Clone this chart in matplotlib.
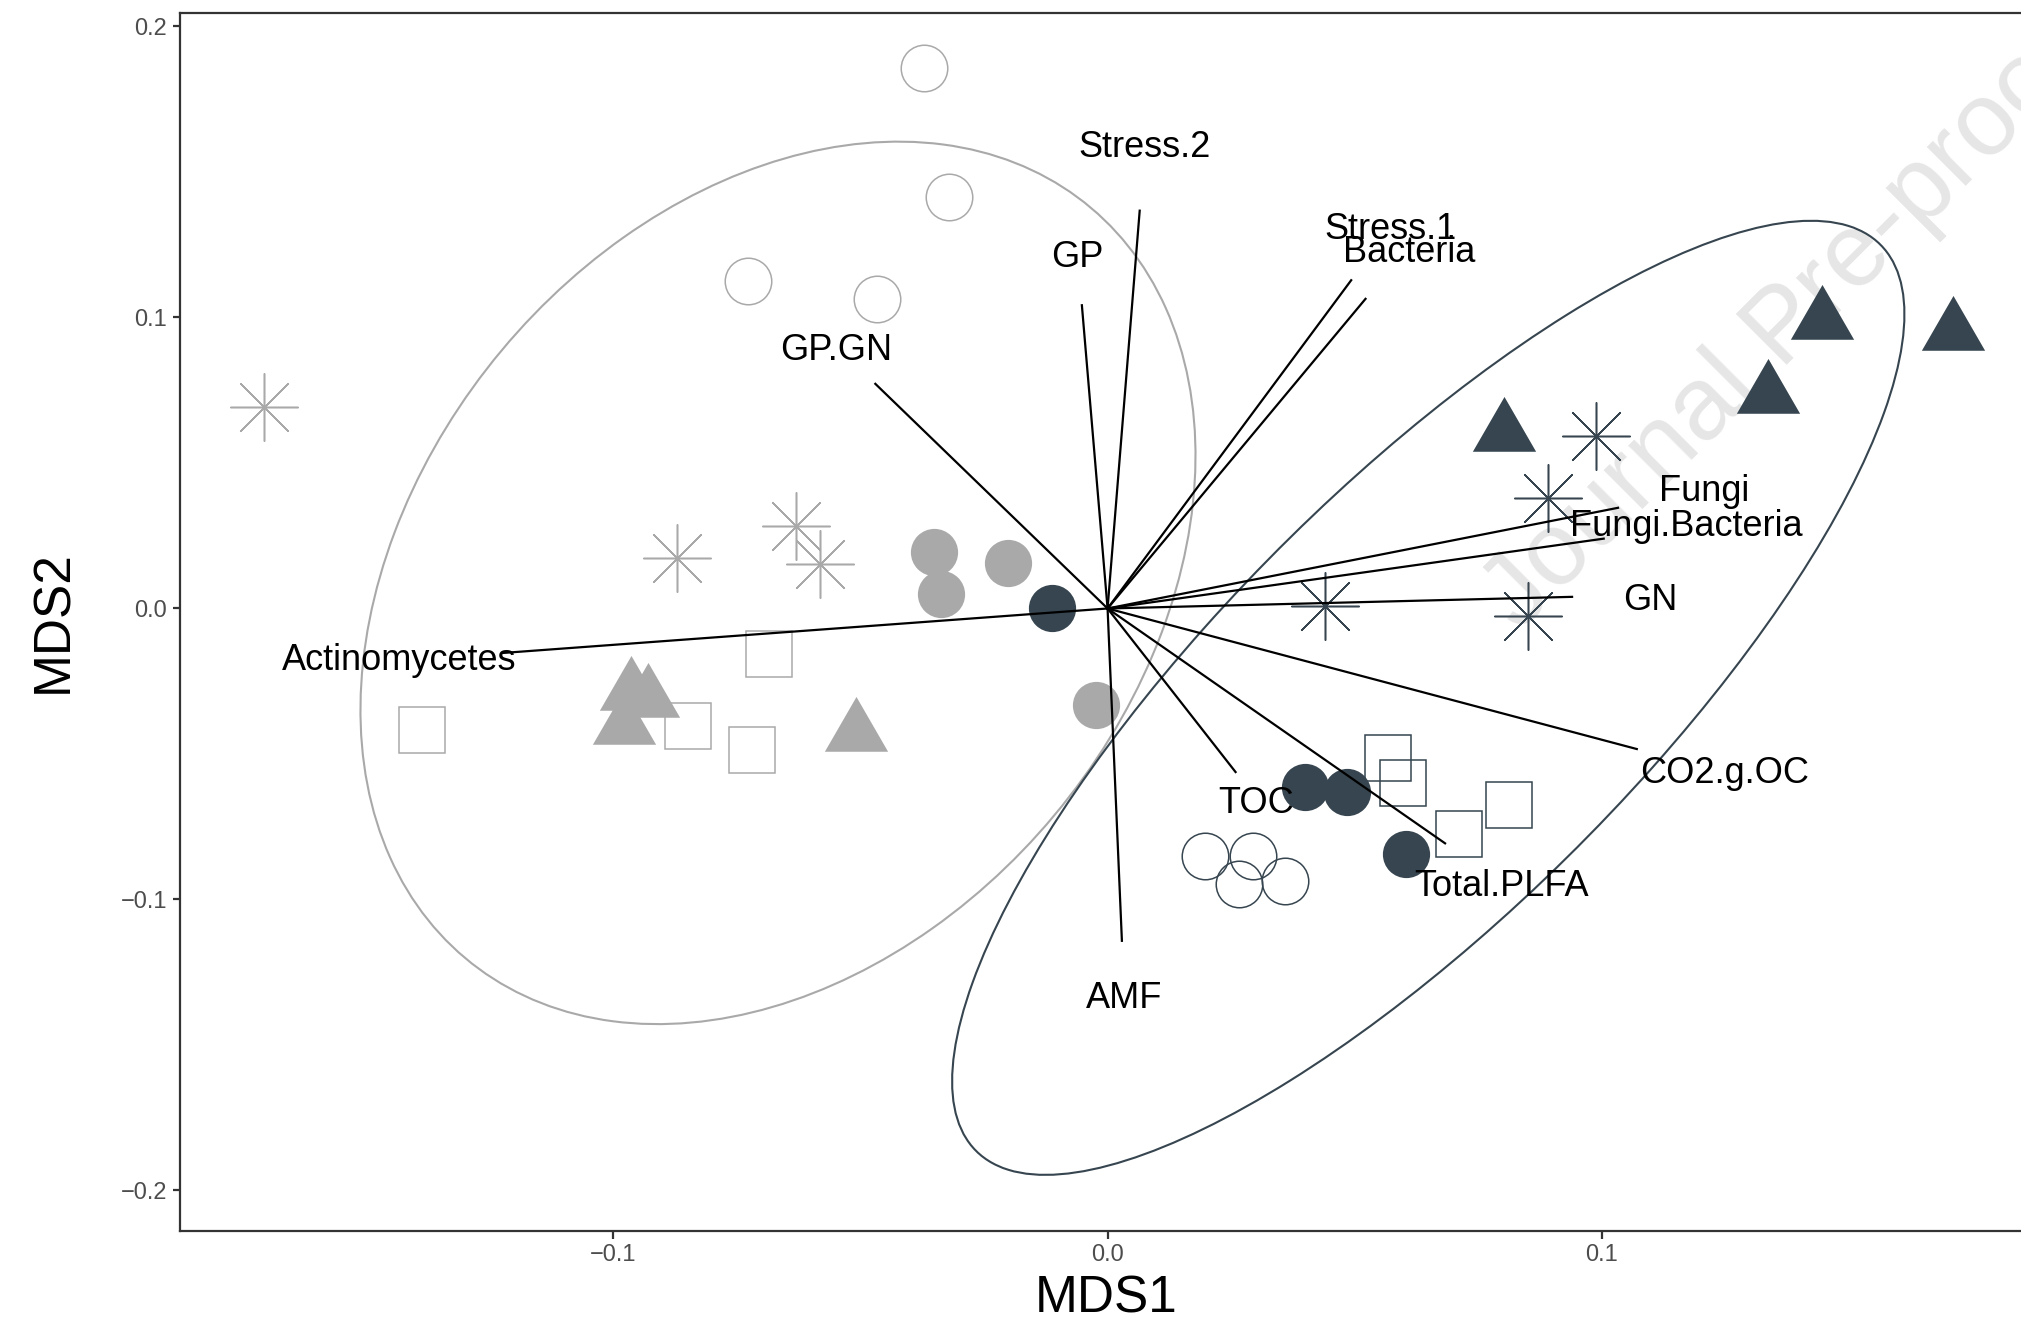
import numpy as np
import matplotlib.pyplot as plt
from matplotlib.patches import Ellipse

plt.rcParams['font.family'] = ['Liberation Sans', 'DejaVu Sans']

# NMDS site scores, two groups x five shapes
grey_open_circle_x = [-0.0371, -0.0320, -0.0727, -0.0466]
grey_open_circle_y = [0.1857, 0.1414, 0.1124, 0.1063]
grey_circle_x = [-0.0352, -0.0202, -0.0337, -0.0023]
grey_circle_y = [0.0195, 0.0156, 0.0051, -0.0333]
grey_square_x = [-0.1388, -0.0685, -0.0719, -0.0850]
grey_square_y = [-0.0416, -0.0158, -0.0487, -0.0405]
grey_triangle_x = [-0.0965, -0.0930, -0.0979, -0.0509]
grey_triangle_y = [-0.0286, -0.0310, -0.0405, -0.0428]
grey_star_x = [-0.1708, -0.0872, -0.0631, -0.0581]
grey_star_y = [0.0693, 0.0175, 0.0284, 0.0154]

dark_open_circle_x = [0.0197, 0.0295, 0.0266, 0.0359]
dark_open_circle_y = [-0.0851, -0.0851, -0.0947, -0.0935]
dark_circle_x = [-0.0113, 0.0399, 0.0484, 0.0603]
dark_circle_y = [0.0002, -0.0613, -0.0632, -0.0844]
dark_square_x = [0.0567, 0.0597, 0.0712, 0.0812]
dark_square_y = [-0.0515, -0.0601, -0.0775, -0.0674]
dark_triangle_x = [0.1445, 0.1711, 0.1336, 0.0802]
dark_triangle_y = [0.0988, 0.0950, 0.0734, 0.0603]
dark_star_x = [0.0989, 0.0892, 0.0850, 0.0439]
dark_star_y = [0.0591, 0.0378, -0.0026, 0.0008]

# 95% ellipses: centre, semi axes, angle (deg)
grey_ell = dict(cx=-0.0667, cy=0.0088, a=0.1543, b=0.0795, ang=77.5)
dark_ell = dict(cx=0.0649, cy=-0.0307, a=0.1831, b=0.0513, ang=62.35)

# envfit vectors
vec_names = ['Stress.2', 'GP', 'GP.GN', 'Stress.1', 'Bacteria', 'Fungi',
             'Fungi.Bacteria', 'GN', 'CO2.g.OC', 'Total.PLFA', 'TOC', 'AMF',
             'Actinomycetes']
vec_x = [0.0065, -0.0052, -0.0470, 0.0493, 0.0522, 0.1033, 0.1004, 0.0940,
         0.1071, 0.0683, 0.0259, 0.0029, -0.1225]
vec_y = [0.1367, 0.1042, 0.0772, 0.1128, 0.1064, 0.0346, 0.0240, 0.0040,
         -0.0483, -0.0807, -0.0562, -0.1142, -0.0153]
lab_x = [0.0075, -0.0062, -0.0549, 0.0572, 0.0610, 0.1208, 0.1172, 0.1098,
         0.1249, 0.0797, 0.0300, 0.0033, -0.1433]
lab_y = [0.1595, 0.1219, 0.0898, 0.1315, 0.1236, 0.0415, 0.0292, 0.0039,
         -0.0556, -0.0942, -0.0659, -0.1330, -0.0167]

grey = '#A9A9A9'
dark = '#36454F'

fig = plt.figure(figsize=(20.21, 13.24), dpi=100)
ax = fig.add_axes([0.0891, 0.0705, 0.9164, 0.9194])

tri = [(0, 1), (-0.866, -0.5), (0.866, -0.5)]

for col, oc, fc, sq, tr, st in [
        (grey, (grey_open_circle_x, grey_open_circle_y), (grey_circle_x, grey_circle_y),
         (grey_square_x, grey_square_y), (grey_triangle_x, grey_triangle_y),
         (grey_star_x, grey_star_y)),
        (dark, (dark_open_circle_x, dark_open_circle_y), (dark_circle_x, dark_circle_y),
         (dark_square_x, dark_square_y), (dark_triangle_x, dark_triangle_y),
         (dark_star_x, dark_star_y))]:
    ax.plot(*oc, ls='none', marker='o', ms=33.5, mfc='none', mec=col, mew=1.1, zorder=3)
    ax.plot(*fc, ls='none', marker='o', ms=34, mfc=col, mec='none', zorder=3)
    ax.plot(*sq, ls='none', marker='s', ms=33, mfc='none', mec=col, mew=1.1, zorder=3)
    ax.plot(*tr, ls='none', marker=tri, ms=52.6, mfc=col, mec='none', zorder=3)
    ax.plot(*st, ls='none', marker=(8, 2, 0), ms=49, mec=col, mew=1.1, zorder=3)

for e, col in [(grey_ell, grey), (dark_ell, dark)]:
    ax.add_patch(Ellipse((e['cx'], e['cy']), 2 * e['a'], 2 * e['b'], angle=e['ang'],
                         fill=False, ec=col, lw=1.5, zorder=2))

for i, name in enumerate(vec_names):
    ax.plot([0, vec_x[i]], [0, vec_y[i]], color='black', lw=1.6, zorder=4)
    ax.annotate(name, (lab_x[i], lab_y[i]), xytext=(0, -9.3), textcoords='offset points',
                ha='center', va='baseline', fontsize=26, color='black', zorder=5)

ax.set_xlim(-0.1877, 0.1871)
ax.set_ylim(-0.2138, 0.2045)
ax.set_xticks([-0.1, 0.0, 0.1])
ax.set_yticks([-0.2, -0.1, 0.0, 0.1, 0.2])
ax.set_xticklabels(['\u22120.1', '0.0', '0.1'])
ax.set_yticklabels(['\u22120.2', '\u22120.1', '0.0', '0.1', '0.2'])
ax.tick_params(length=5.4, width=1.6, color='#333333', labelsize=17,
               labelcolor='#4D4D4D', pad=4)
for s in ax.spines.values():
    s.set_color('#333333')
    s.set_linewidth(1.6)
ax.spines['right'].set_visible(False)
ax.set_xlabel('MDS1', fontsize=37, labelpad=6)
ax.set_ylabel('MDS2', fontsize=37)
ax.yaxis.set_label_coords(-0.055, 0.5)

# watermark of the source pdf, behind the data
ax.text(0.752, 0.522, 'Journal Pre-proof', transform=fig.transFigure, rotation=45,
        rotation_mode='anchor', ha='left', va='baseline', fontsize=75,
        color='#E6E6E6', zorder=0, clip_on=False)

fig.savefig('out.png', dpi=100)
